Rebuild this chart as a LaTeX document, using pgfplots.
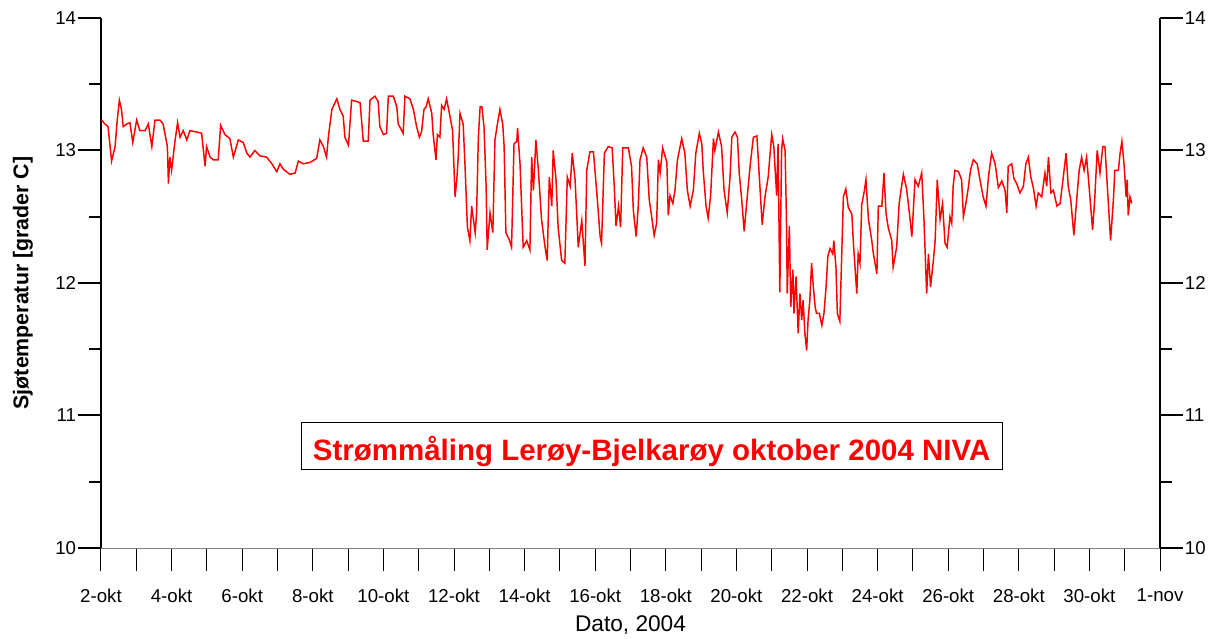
\documentclass[border=0pt]{standalone}
\usepackage{fontspec}
\setmainfont{Liberation Sans}
\usepackage{pgfplots}
\pgfplotsset{compat=1.18}
\begin{document}
\begin{tikzpicture}
\path[use as bounding box] (-75.75pt,-67.5pt) rectangle (843.75pt,411pt);
\begin{axis}[
  scale only axis, width=794.25pt, height=397.5pt,
  at={(0,0)}, anchor=south west,
  xmin=2, xmax=32, ymin=10, ymax=14,
  axis x line*=bottom, axis y line*=left,
  x axis line style={-, draw=gray, line width=0.75pt},
  y axis line style={-, draw=black, line width=1.5pt},
  xtick={2,...,32},
  xticklabels={2-okt,{},4-okt,{},6-okt,{},8-okt,{},10-okt,{},12-okt,{},14-okt,{},16-okt,{},18-okt,{},20-okt,{},22-okt,{},24-okt,{},26-okt,{},28-okt,{},30-okt,{},1-nov},
  ytick={10,11,12,13,14},
  minor ytick={10.5,11.5,12.5,13.5},
  tick align=outside,
  major tick length=17.5pt, minor tick length=9pt,
  xtick style={line width=0.75pt, black},
  ytick style={line width=1.5pt, black},
  /pgf/number format/assume math mode=true,
  tick label style={font=\fontsize{14}{16}\selectfont},
  yticklabel style={inner sep=1pt},
  xticklabel style={yshift=-9.75pt},
  xlabel={Dato, 2004},
  ylabel={Sjøtemperatur [grader C]},
  xlabel style={at={(axis description cs:0.5,-0.1453)}, anchor=center, font=\fontsize{17}{19}\selectfont},
  ylabel style={at={(axis description cs:-0.0737,0.5)}, anchor=center, font=\fontsize{16}{18}\selectfont\bfseries},
]
\addplot[red, line width=1.1pt] coordinates {
(2.02,13.23) (2.11,13.2) (2.20,13.18) (2.30,12.92) (2.40,13.03) (2.45,13.2) (2.52,13.38) (2.58,13.31)
(2.63,13.18) (2.73,13.2) (2.82,13.21) (2.90,13.06) (3.01,13.23) (3.10,13.15) (3.25,13.15) (3.34,13.2)
(3.44,13.03) (3.53,13.23) (3.67,13.23) (3.76,13.2) (3.88,13.03) (3.91,12.75) (3.95,12.95) (4.00,12.85)
(4.10,13.08) (4.17,13.21) (4.24,13.1) (4.33,13.15) (4.43,13.08) (4.52,13.15) (4.71,13.14) (4.85,13.13)
(4.95,12.88) (4.99,13.03) (5.09,12.95) (5.18,12.93) (5.32,12.93) (5.39,13.19) (5.51,13.12) (5.65,13.09)
(5.75,12.95) (5.89,13.08) (6.03,13.06) (6.13,12.98) (6.22,12.95) (6.36,13.0) (6.50,12.96) (6.69,12.95)
(6.84,12.9) (6.98,12.84) (7.07,12.9) (7.16,12.86) (7.35,12.82) (7.50,12.83) (7.59,12.92) (7.73,12.9)
(7.92,12.91) (8.11,12.94) (8.20,13.08) (8.30,13.03) (8.39,12.95) (8.44,13.1) (8.54,13.31) (8.68,13.39)
(8.77,13.31) (8.86,13.26) (8.91,13.1) (9.01,13.04) (9.10,13.38) (9.24,13.37) (9.34,13.36) (9.43,13.07)
(9.57,13.07) (9.62,13.38) (9.76,13.41) (9.85,13.37) (9.90,13.18) (10.00,13.12) (10.09,13.13) (10.14,13.41)
(10.28,13.41) (10.38,13.33) (10.42,13.2) (10.52,13.15) (10.56,13.13) (10.61,13.41) (10.75,13.39) (10.85,13.31)
(10.94,13.18) (11.02,13.1) (11.08,13.14) (11.15,13.31) (11.21,13.33) (11.27,13.39) (11.37,13.28) (11.41,13.12)
(11.49,12.93) (11.53,13.12) (11.60,13.1) (11.65,13.34) (11.72,13.31) (11.79,13.39) (11.87,13.28) (11.96,13.15)
(12.03,12.65) (12.08,12.78) (12.12,12.95) (12.17,13.28) (12.26,13.2) (12.31,12.9) (12.38,12.42) (12.45,12.32)
(12.50,12.58) (12.60,12.38) (12.64,12.53) (12.69,13.1) (12.74,13.33) (12.79,13.33) (12.85,13.18) (12.91,12.73)
(12.94,12.25) (13.02,12.53) (13.10,12.38) (13.16,13.08) (13.23,13.2) (13.30,13.31) (13.38,13.2) (13.42,13.03)
(13.47,12.38) (13.56,12.33) (13.63,12.27) (13.70,13.05) (13.78,13.07) (13.80,13.17) (13.87,12.9) (13.96,12.27)
(14.06,12.32) (14.15,12.25) (14.20,12.95) (14.25,12.7) (14.32,13.08) (14.39,12.85) (14.48,12.48) (14.58,12.27)
(14.64,12.17) (14.70,12.8) (14.77,12.58) (14.81,13.0) (14.89,12.78) (14.95,12.42) (15.05,12.17) (15.14,12.15)
(15.21,12.8) (15.29,12.73) (15.35,12.98) (15.43,12.78) (15.52,12.27) (15.62,12.47) (15.71,12.13) (15.76,12.85)
(15.85,12.99) (15.95,12.99) (16.04,12.7) (16.14,12.35) (16.18,12.3) (16.26,12.98) (16.37,13.03) (16.48,13.02)
(16.54,12.73) (16.59,12.43) (16.66,12.58) (16.72,12.42) (16.78,13.02) (16.94,13.02) (17.03,12.88) (17.08,12.55)
(17.16,12.35) (17.22,12.58) (17.27,12.93) (17.36,13.02) (17.46,12.95) (17.53,12.63) (17.60,12.5) (17.67,12.36)
(17.74,12.45) (17.79,12.93) (17.84,12.83) (17.91,13.02) (18.03,12.91) (18.07,12.51) (18.12,12.66) (18.20,12.6)
(18.26,12.7) (18.33,12.93) (18.45,13.09) (18.54,12.98) (18.61,12.7) (18.69,12.58) (18.78,12.7) (18.85,12.98)
(18.95,13.13) (19.02,13.05) (19.06,12.85) (19.14,12.58) (19.20,12.49) (19.27,12.66) (19.35,13.09) (19.39,13.0)
(19.49,13.14) (19.58,13.03) (19.65,12.7) (19.74,12.53) (19.82,12.8) (19.87,13.1) (19.96,13.14) (20.03,13.1)
(20.08,12.83) (20.15,12.63) (20.22,12.39) (20.29,12.6) (20.39,12.89) (20.48,13.1) (20.58,13.11) (20.65,12.8)
(20.73,12.44) (20.81,12.65) (20.90,12.8) (21.00,13.12) (21.06,13.03) (21.14,12.66) (21.18,13.05) (21.23,11.93)
(21.28,13.0) (21.31,13.09) (21.38,13.0) (21.42,12.44) (21.44,11.92) (21.50,12.43) (21.54,11.82) (21.60,12.1)
(21.63,11.77) (21.69,12.05) (21.75,11.62) (21.80,11.92) (21.85,11.72) (21.89,11.87) (21.94,11.62) (21.99,11.49)
(22.03,11.72) (22.08,11.87) (22.13,12.15) (22.18,11.97) (22.23,11.82) (22.27,11.77) (22.35,11.77) (22.42,11.68)
(22.48,11.77) (22.54,11.97) (22.59,12.2) (22.65,12.26) (22.73,12.22) (22.76,12.32) (22.82,12.12) (22.86,11.77)
(22.93,11.71) (22.98,12.18) (23.03,12.65) (23.10,12.71) (23.17,12.57) (23.27,12.52) (23.31,12.32) (23.36,12.12)
(23.41,11.92) (23.45,12.22) (23.50,12.15) (23.55,12.59) (23.62,12.69) (23.67,12.78) (23.74,12.48) (23.83,12.33)
(23.88,12.22) (23.98,12.07) (24.02,12.58) (24.12,12.58) (24.18,12.83) (24.24,12.52) (24.30,12.42) (24.40,12.32)
(24.44,12.12) (24.54,12.27) (24.61,12.6) (24.68,12.73) (24.73,12.82) (24.82,12.71) (24.90,12.53) (24.97,12.35)
(25.06,12.78) (25.15,12.73) (25.25,12.83) (25.31,12.5) (25.39,11.92) (25.44,12.22) (25.50,11.97) (25.58,12.17)
(25.63,12.32) (25.69,12.78) (25.77,12.48) (25.84,12.6) (25.91,12.3) (25.97,12.27) (26.05,12.5) (26.10,12.45)
(26.14,12.73) (26.19,12.85) (26.29,12.84) (26.38,12.78) (26.43,12.5) (26.50,12.6) (26.57,12.72) (26.63,12.85)
(26.71,12.93) (26.82,12.9) (26.90,12.78) (26.99,12.65) (27.07,12.58) (27.14,12.8) (27.23,12.98) (27.33,12.9)
(27.42,12.72) (27.52,12.77) (27.61,12.7) (27.66,12.53) (27.70,12.88) (27.80,12.9) (27.86,12.79) (27.94,12.75)
(28.03,12.68) (28.13,12.73) (28.20,12.9) (28.27,12.95) (28.34,12.8) (28.41,12.72) (28.49,12.58) (28.55,12.68)
(28.65,12.65) (28.74,12.83) (28.79,12.73) (28.84,12.95) (28.91,12.68) (28.98,12.7) (29.08,12.58) (29.17,12.6)
(29.26,12.8) (29.34,12.98) (29.40,12.73) (29.47,12.63) (29.56,12.36) (29.64,12.63) (29.71,12.85) (29.78,12.95)
(29.85,12.85) (29.92,12.95) (29.99,12.73) (30.09,12.4) (30.15,12.63) (30.22,13.0) (30.30,12.83) (30.38,13.03)
(30.44,13.03) (30.51,12.72) (30.60,12.32) (30.68,12.63) (30.72,12.85) (30.82,12.85) (30.87,12.98) (30.92,13.07)
(30.98,12.9) (31.04,12.65) (31.07,12.78) (31.10,12.51) (31.15,12.65) (31.20,12.6)
};
\node[draw=black, line width=0.75pt, fill=white, minimum width=526pt, minimum height=35.25pt, inner sep=0pt] at (axis cs:17.60,10.771) {};
\node[anchor=base, text=red, font=\fontsize{22.1}{25}\selectfont\bfseries, inner sep=0pt] at (axis cs:17.60,10.659) {Strømmåling Lerøy-Bjelkarøy oktober 2004 NIVA};
\end{axis}
\begin{axis}[
  scale only axis, width=794.25pt, height=397.5pt,
  at={(0,0)}, anchor=south west,
  xmin=2, xmax=32, ymin=10, ymax=14,
  axis x line=none, axis y line*=right,
  y axis line style={-, draw=black, line width=1.5pt},
  ytick={10,11,12,13,14},
  minor ytick={10.5,11.5,12.5,13.5},
  tick align=outside,
  major tick length=17.5pt, minor tick length=9pt,
  ytick style={line width=1.5pt, black},
  /pgf/number format/assume math mode=true,
  tick label style={font=\fontsize{14}{16}\selectfont},
  yticklabel style={inner sep=1pt},
]
\end{axis}
\end{tikzpicture}
\end{document}
